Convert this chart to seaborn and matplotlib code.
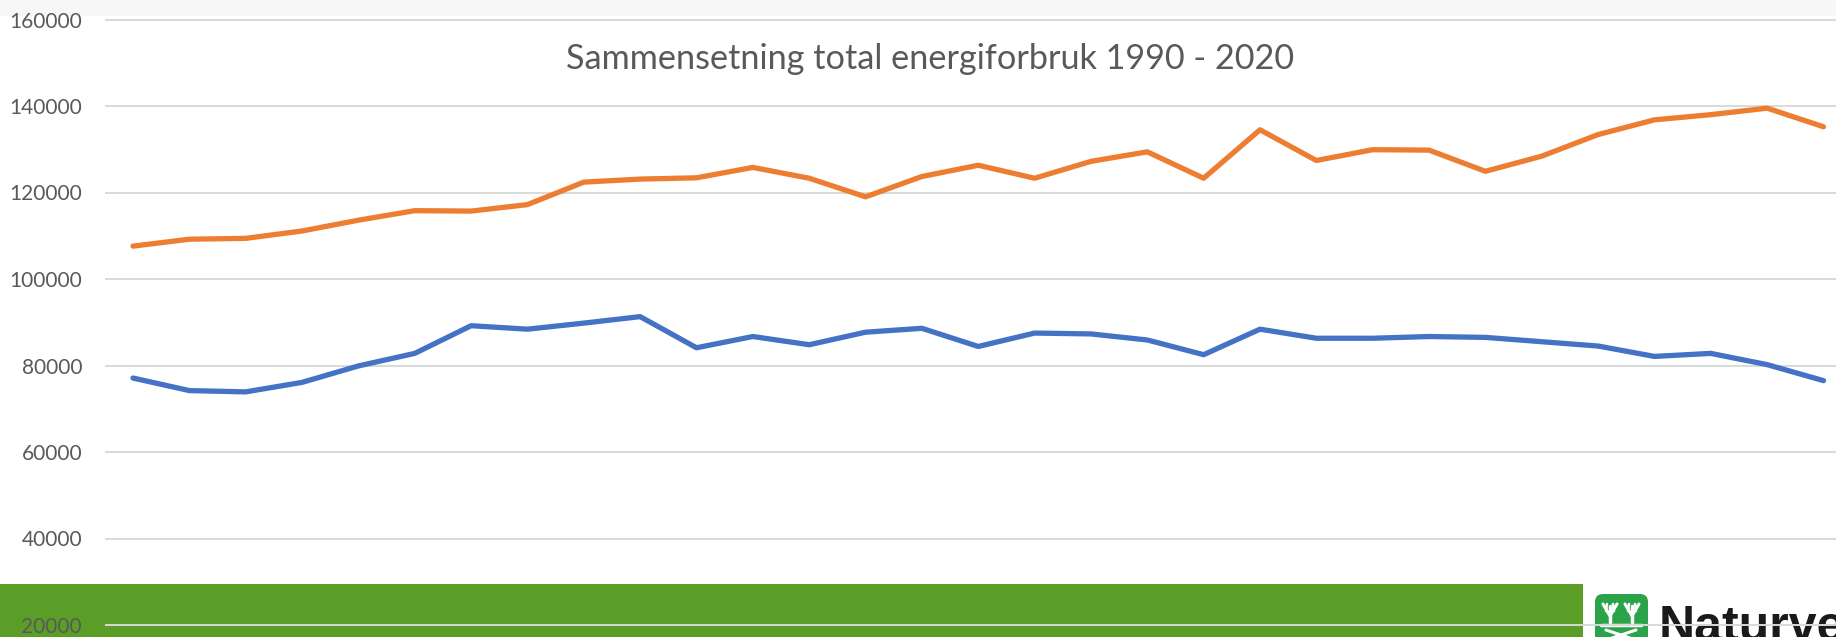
import numpy as np
import pandas as pd
import seaborn as sns
import matplotlib.pyplot as plt
from matplotlib.patches import Rectangle, FancyBboxPatch
from matplotlib.ticker import StrMethodFormatter

# data (1990 - 2020)
years = list(range(1990, 2021))
serie1 = [77100, 74200, 73900, 76100, 79900, 82800, 89200, 88400, 89800, 91300,
          84100, 86700, 84800, 87700, 88600, 84400, 87500, 87300, 85900, 82500,
          88400, 86300, 86300, 86700, 86500, 85500, 84500, 82100, 82800, 80200, 76500]
serie2 = [107600, 109200, 109400, 111100, 113600, 115800, 115700, 117200, 122400, 123100,
          123400, 125800, 123300, 119000, 123700, 126300, 123300, 127200, 129400, 123300,
          134500, 127400, 129900, 129800, 124900, 128400, 133400, 136800, 138000, 139500, 135200]
series_names = ["Serie1", "Serie2"]
yticks = list(range(20000, 160001, 20000))
title = "Sammensetning total energiforbruk 1990 - 2020"

df = pd.DataFrame({
    "år": years * 2,
    "verdi": serie1 + serie2,
    "serie": [series_names[0]] * len(years) + [series_names[1]] * len(years),
})

sns.set_theme(style="white")
plt.rcParams['font.family'] = ['Lato', 'DejaVu Sans']

W, H = 1836, 637
fig = plt.figure(figsize=(W / 100, H / 100), dpi=100)

# background layer (slide stuff behind the chart), pixel coords
bg = fig.add_axes([0, 0, 1, 1], zorder=0)
bg.set_xlim(0, W)
bg.set_ylim(H, 0)
bg.axis('off')
bg.add_patch(Rectangle((0, 0), W, 15.5, color='#F7F7F7', lw=0))
bg.add_patch(Rectangle((0, 584), 1583, 60, color='#5A9E28', lw=0))
bg.add_patch(FancyBboxPatch((1595, 594), 53, 60, boxstyle='round,pad=0,rounding_size=8',
                            color='#2BA449', lw=0))
for cx in (1610, 1632):
    bg.plot([cx, cx], [606, 622], color='white', lw=2.5)
    bg.plot([cx, cx - 7], [616, 604], color='white', lw=2.2)
    bg.plot([cx, cx + 7], [616, 604], color='white', lw=2.2)
    bg.plot([cx - 4, cx - 3], [611, 604], color='white', lw=1.8)
    bg.plot([cx + 4, cx + 3], [611, 604], color='white', lw=1.8)
bg.plot([1601, 1641], [625, 625], color='white', lw=2.5)
bg.plot([1606, 1636], [630, 640], color='white', lw=2.2)
bg.plot([1606, 1636], [640, 630], color='white', lw=2.2)
bg.text(1659, 641, "Naturvernforbundet", fontsize=36, fontweight='bold', color='#1A1A1A',
        ha='left', va='baseline', family=['Liberation Sans', 'DejaVu Sans'])

# chart
left = 105
ax = fig.add_axes([left / W, 0, 1 - left / W, 1], zorder=2)
ax.patch.set_alpha(0)
sns.lineplot(data=df, x="år", y="verdi", hue="serie", palette=['#4472C4', '#ED7D31'],
             linewidth=3.8, legend=False, ax=ax, solid_capstyle='round', solid_joinstyle='round')

step = 56.35
ax.set_xlim(1990 - (133 - left) / step, 1990 + (W - 133) / step)
ax.set_ylim(160000 - (H - 19.5) / 86.5 * 20000, 160000 + 19.5 / 86.5 * 20000)
ax.set_yticks(yticks)
ax.yaxis.set_major_formatter(StrMethodFormatter('{x:.0f}'))
ax.set_xticks([])
ax.set_xlabel("")
ax.set_ylabel("")
ax.yaxis.grid(True, color='#D9D9D9', lw=1.4)
ax.set_axisbelow(True)
for s in ax.spines.values():
    s.set_visible(False)
ax.tick_params(axis='y', length=0, pad=16.5, labelsize=15, labelcolor='#595959')

fig.text(930 / W, 1 - 59 / H, title, ha='center', va='center', fontsize=24.7,
         color='#595959')

fig.savefig("out.png", dpi=100)
